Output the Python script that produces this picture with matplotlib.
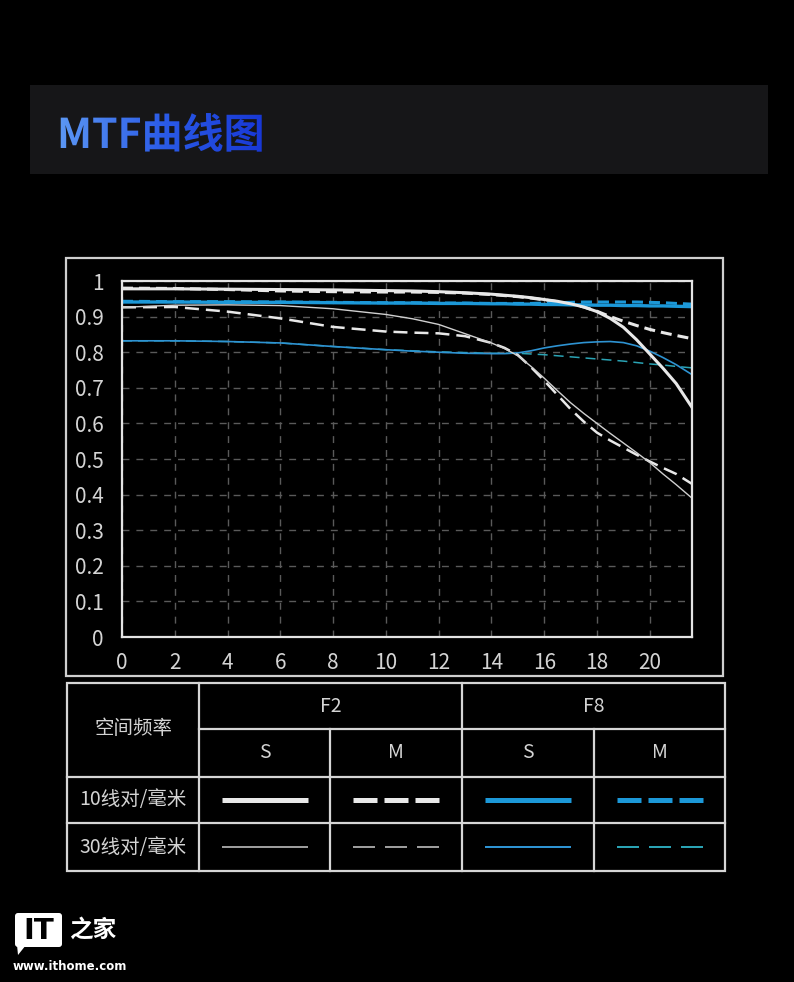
import matplotlib
matplotlib.use("Agg")
import matplotlib.pyplot as plt
import numpy as np
from matplotlib.patches import Rectangle, FancyBboxPatch, PathPatch, Polygon
from matplotlib.textpath import TextPath
from matplotlib.font_manager import FontProperties
from matplotlib.colors import LinearSegmentedColormap

plt.rcParams['font.family'] = ['Noto Sans CJK SC', 'DejaVu Sans']
plt.rcParams['lines.scale_dashes'] = False

# ---- data ----
freq = [0, 2, 4, 6, 8, 10, 11, 12, 13, 14, 14.5, 15, 15.5, 16, 16.5,
        17, 17.5, 18, 18.5, 19, 19.5, 20, 20.5, 21, 21.6]

f2_s10 = [0.978, 0.978, 0.977, 0.976, 0.975, 0.973, 0.972, 0.970, 0.967, 0.963, 0.960, 0.957, 0.953,
          0.948, 0.943, 0.936, 0.927, 0.914, 0.895, 0.870, 0.835, 0.795, 0.755, 0.712, 0.645]
f2_m10 = [0.980, 0.979, 0.976, 0.972, 0.970, 0.969, 0.969, 0.968, 0.966, 0.962, 0.959, 0.956, 0.952,
          0.947, 0.942, 0.936, 0.927, 0.915, 0.900, 0.887, 0.875, 0.864, 0.855, 0.847, 0.838]
f8_s10 = [0.941, 0.941, 0.940, 0.940, 0.939, 0.938, 0.938, 0.937, 0.937, 0.936, 0.936, 0.935, 0.935,
          0.934, 0.934, 0.933, 0.933, 0.932, 0.932, 0.931, 0.931, 0.930, 0.930, 0.929, 0.928]
f8_m10 = [0.943, 0.942, 0.942, 0.941, 0.940, 0.939, 0.939, 0.938, 0.938, 0.937, 0.937, 0.937, 0.937,
          0.938, 0.939, 0.940, 0.941, 0.941, 0.941, 0.941, 0.941, 0.940, 0.939, 0.937, 0.935]
f2_s30 = [0.926, 0.932, 0.933, 0.931, 0.922, 0.906, 0.894, 0.878, 0.852, 0.826, 0.810, 0.790, 0.760,
          0.727, 0.692, 0.658, 0.628, 0.600, 0.572, 0.545, 0.518, 0.490, 0.458, 0.428, 0.390]
f2_m30 = [0.926, 0.927, 0.914, 0.895, 0.871, 0.858, 0.855, 0.853, 0.845, 0.826, 0.812, 0.792, 0.758,
          0.720, 0.680, 0.640, 0.605, 0.574, 0.552, 0.532, 0.512, 0.493, 0.475, 0.458, 0.430]
f8_s30 = [0.832, 0.832, 0.830, 0.826, 0.816, 0.807, 0.803, 0.800, 0.797, 0.796, 0.796, 0.798, 0.804,
          0.812, 0.818, 0.823, 0.827, 0.829, 0.830, 0.827, 0.818, 0.803, 0.785, 0.765, 0.737]
f8_m30 = [0.832, 0.832, 0.830, 0.826, 0.816, 0.807, 0.804, 0.801, 0.799, 0.797, 0.797, 0.797, 0.795,
          0.793, 0.790, 0.787, 0.784, 0.781, 0.778, 0.775, 0.771, 0.767, 0.764, 0.760, 0.756]

xticks = list(range(0, 21, 2))
yticks = [0, 0.1, 0.2, 0.3, 0.4, 0.5, 0.6, 0.7, 0.8, 0.9, 1]
ytick_labels = ['0', '0.1', '0.2', '0.3', '0.4', '0.5', '0.6', '0.7', '0.8', '0.9', '1']

title = 'MTF曲线图'
header_left = '空间频率'
apertures = ['F2', 'F8']
directions = ['S', 'M', 'S', 'M']
row_labels = ['10线对/毫米', '30线对/毫米']

# styles
WHITE = '#e8e8e8'
WHITE_THIN = '#d0d0d0'
BLUE = '#1c98d8'
BLUE_THIN = '#2e93d2'
TEAL_THIN = '#2aa3b4'
TXT = '#d4d4d4'
px = 0.72  # points per pixel at dpi 100

W, H = 794, 982
fig = plt.figure(figsize=(W / 100, H / 100), dpi=100, facecolor='black')

# background layer in pixel coordinates
bg = fig.add_axes([0, 0, 1, 1])
bg.set_xlim(0, W)
bg.set_ylim(H, 0)
bg.axis('off')
bg.set_facecolor('black')

# outer box around the chart
bg.add_patch(Rectangle((66, 258), 657, 418, fill=False, edgecolor='#cfcfcf', lw=1.6))

# ---- title panel with gradient text ----
ta = fig.add_axes([30 / W, 1 - 174 / H, 738 / W, 89 / H])
ta.set_facecolor('#161618')
for s in ta.spines.values():
    s.set_visible(False)
ta.set_xticks([])
ta.set_yticks([])
fp = FontProperties(family='Noto Sans CJK SC', weight='bold')
tp = TextPath((27, 26), title, size=41, prop=fp)
clip = PathPatch(tp, facecolor='none', edgecolor='none')
ta.add_patch(clip)
cmap = LinearSegmentedColormap.from_list('t', ['#5c98f4', '#2a5ae6', '#1634d4'])
grad = np.linspace(0, 1, 256).reshape(1, -1)
im = ta.imshow(grad, cmap=cmap, extent=(27, 245, 15, 75), aspect='auto')
im.set_clip_path(clip)
ta.set_xlim(0, 738)
ta.set_ylim(0, 89)

# ---- MTF chart ----
ax = fig.add_axes([122 / W, 1 - 637 / H, 570 / W, 356 / H])
ax.set_facecolor('black')
ax.set_xlim(0, 21.6)
ax.set_ylim(0, 1.0)
ax.set_xticks(xticks)
ax.set_yticks(yticks)
ax.set_yticklabels(ytick_labels)
ax.tick_params(length=0, colors=TXT, labelsize=15)
ax.tick_params(axis='y', pad=13)
ax.tick_params(axis='x', pad=11)
ax.grid(True, color='#5a5a5a', lw=1.0, linestyle=(0, (5, 5)))
for s in ax.spines.values():
    s.set_color('#e4e4e4')
    s.set_linewidth(1.6)
    s.set_zorder(5)

ax.plot(freq, f8_m30, color=TEAL_THIN, lw=1.1, dashes=(10 * px, 6 * px), zorder=2)
ax.plot(freq, f8_s30, color=BLUE_THIN, lw=1.2, zorder=2)
ax.plot(freq, f2_m30, color=WHITE, lw=1.8, dashes=(14 * px, 7 * px), zorder=3)
ax.plot(freq, f2_s30, color=WHITE_THIN, lw=1.0, zorder=3)
ax.plot(freq, f2_m10, color=WHITE, lw=2.2, dashes=(11 * px, 6 * px), zorder=3)
ax.plot(freq, f8_m10, color=BLUE, lw=2.2, dashes=(11 * px, 6 * px), zorder=3)
ax.plot(freq, f8_s10, color=BLUE, lw=2.4, zorder=4)
ax.plot(freq, f2_s10, color=WHITE, lw=2.2, zorder=4)

# ---- legend table ----
cols = [67, 199, 330, 462, 594, 725]
rows = [683, 729, 777, 823, 871]
lc = '#d6d6d6'
tlw = 1.6
bg.add_patch(Rectangle((cols[0], rows[0]), cols[-1] - cols[0], rows[-1] - rows[0],
                       fill=False, edgecolor=lc, lw=tlw))
bg.plot([cols[1], cols[-1]], [rows[1], rows[1]], color=lc, lw=tlw)
for r in rows[2:4]:
    bg.plot([cols[0], cols[-1]], [r, r], color=lc, lw=tlw)
for c in [cols[1], cols[3]]:
    bg.plot([c, c], [rows[0], rows[-1]], color=lc, lw=tlw)
for c in [cols[2], cols[4]]:
    bg.plot([c, c], [rows[1], rows[-1]], color=lc, lw=tlw)

tfs = 14
bg.text((cols[0] + cols[1]) / 2, rows[1], header_left, color=TXT, fontsize=tfs, ha='center', va='center')
for i, a in enumerate(apertures):
    bg.text((cols[1 + 2 * i] + cols[3 + 2 * i]) / 2, (rows[0] + rows[1]) / 2, a,
            color=TXT, fontsize=tfs, ha='center', va='center')
for i, d in enumerate(directions):
    bg.text((cols[1 + i] + cols[2 + i]) / 2, (rows[1] + rows[2]) / 2, d,
            color=TXT, fontsize=tfs, ha='center', va='center')
for j, lab in enumerate(row_labels):
    bg.text((cols[0] + cols[1]) / 2, (rows[2 + j] + rows[3 + j]) / 2, lab,
            color=TXT, fontsize=tfs, ha='center', va='center')

# line samples: (colour, lw, dashes) per row / column
samples = [
    [(WHITE, 5 * px, None), (WHITE, 5 * px, (24 * px, 7 * px)),
     (BLUE, 5 * px, None), (BLUE, 5 * px, (24 * px, 7 * px))],
    [(WHITE_THIN, 1.5 * px, None), (WHITE_THIN, 1.5 * px, (22 * px, 10 * px)),
     (BLUE_THIN, 2 * px, None), (TEAL_THIN, 2 * px, (22 * px, 10 * px))],
]
for j, row in enumerate(samples):
    yc = (rows[2 + j] + rows[3 + j]) / 2
    for i, (c, lw, dash) in enumerate(row):
        xc = (cols[1 + i] + cols[2 + i]) / 2
        kw = {} if dash is None else {'dashes': dash}
        bg.plot([xc - 43, xc + 43], [yc, yc], color=c, lw=lw, solid_capstyle='butt',
                dash_capstyle='butt', **kw)

# ---- watermark ----
bg.add_patch(FancyBboxPatch((15, 913), 47, 34, boxstyle='round,pad=0,rounding_size=3',
                            facecolor='white', edgecolor='none'))
bg.add_patch(Polygon([[17, 945], [26, 945], [18, 955]], closed=True, facecolor='white', edgecolor='none'))
bg.text(38.5, 931, 'IT', color='black', fontsize=21, fontweight='bold', ha='center', va='center',
        family='DejaVu Sans')
bg.text(93, 930, '之家', color='white', fontsize=17, fontweight='bold', ha='center', va='center')
bg.text(13, 966, 'www.ithome.com', color='white', fontsize=8.5, fontweight='bold', ha='left', va='center',
        family='DejaVu Sans')

fig.savefig('out.png', dpi=100, facecolor='black')
